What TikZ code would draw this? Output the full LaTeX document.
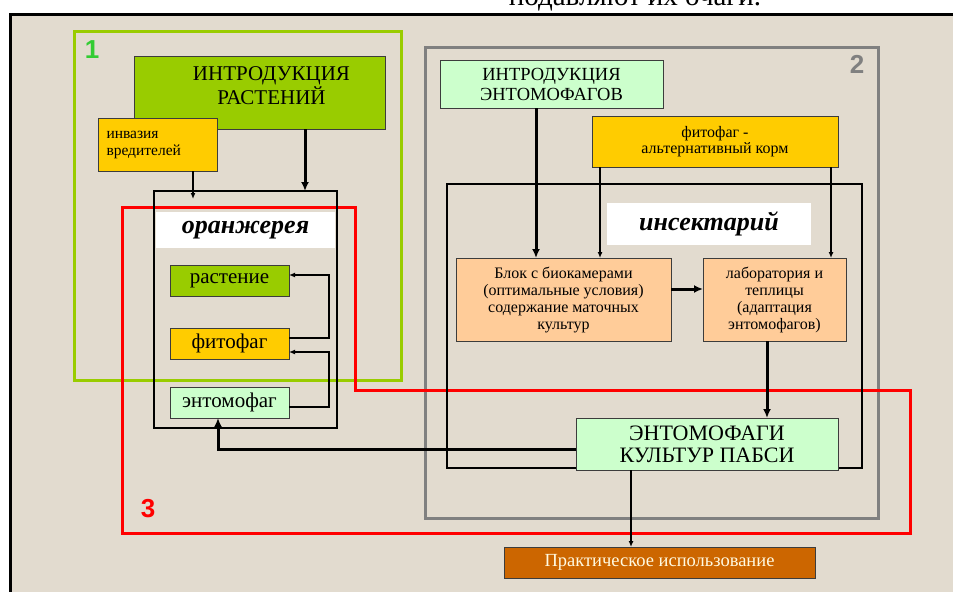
\documentclass[tikz,border=0pt]{standalone}
\usepackage{fontspec}
\setmainfont{Liberation Serif}
\newfontfamily\digitFont{Liberation Sans}
\usetikzlibrary{arrows.meta}
\definecolor{paperColor}{RGB}{226,219,207}
\definecolor{plantGreen}{RGB}{153,204,0}
\definecolor{pestYellow}{RGB}{255,204,0}
\definecolor{entoGreen}{RGB}{204,255,204}
\definecolor{labPeach}{RGB}{255,204,153}
\definecolor{useBrown}{RGB}{204,102,0}
\definecolor{useText}{RGB}{255,250,225}
\definecolor{frameGray}{RGB}{128,128,128}
\definecolor{digitGreen}{RGB}{51,204,51}
\definecolor{edgeGray}{RGB}{60,60,60}
\newcommand{\textSize}[2]{\fontsize{#1}{#2}\selectfont}
\tikzstyle{plan} = [x=1pt, y=-1pt]
\tikzstyle{blockStyle} = [draw=edgeGray, line width=1pt, inner sep=0pt, outer sep=0pt, align=center]
\tikzstyle{frameStyle} = [draw=black, line width=2pt, inner sep=0pt, outer sep=0pt]
\tikzstyle{labelBar} = [fill=white, inner sep=0pt, font=\textSize{26}{30}\bfseries\itshape]
\tikzstyle{zoneLine} = [line width=3pt, line join=miter]
\tikzstyle{digitStyle} = [font=\digitFont\textSize{26}{30}\bfseries, inner sep=0pt]
\tikzstyle{thinArrow} = [line width=1.2pt, -{Latex[length=6pt,width=5pt]}]
\tikzstyle{thickArrow} = [line width=3pt, -{Latex[length=9pt,width=8pt]}]

\begin{document}
\begin{tikzpicture}[plan]
  \useasboundingbox (0,0) rectangle (953,592);
  % paper and border
  \fill [white] (0,0) rectangle (953,592);
  \fill [paperColor] (10,14) rectangle (953,592);
  \draw [line width=3pt] (953,14) -- (10,14) -- (10,592);
  \begin{scope}
    \clip (0,0) rectangle (953,12);
    \node [font=\textSize{29}{32}, anchor=base, inner sep=0pt] (cutText) at (635,5) {подавляют их очаги.};
  \end{scope}
  % zones
  \draw [zoneLine, plantGreen] (74,31) rectangle (401,380);
  \draw [zoneLine, frameGray] (425,47) rectangle (878,518);
  \draw [zoneLine, red] (122,207) -- (355,207) -- (355,390) -- (910,390) -- (910,533) -- (122,533) -- cycle;
  \node [digitStyle, text=digitGreen] (numOne) at (92,50) {1};
  \node [digitStyle, text=frameGray] (numTwo) at (857,64) {2};
  \node [digitStyle, text=red] (numThree) at (148,509) {3};
  % greenhouse
  \node [blockStyle, fill=plantGreen, minimum width=251pt, minimum height=73pt, font=\textSize{21}{22}] (introPlants) at (259.5,92.5) {\hspace*{24pt}ИНТРОДУКЦИЯ\\\hspace*{24pt}РАСТЕНИЙ\\[-8pt]};
  \node [blockStyle, fill=pestYellow, minimum width=119pt, minimum height=53pt, text width=102pt, align=left, font=\textSize{15.5}{17}] (invasion) at (157.5,144.5) {инвазия\\вредителей};
  \node [frameStyle, minimum width=183pt, minimum height=237pt] (greenhouse) at (245.5,309.5) {};
  \node [labelBar, minimum width=179pt, minimum height=36pt] (greenhouseLabel) at (245.5,230) {оранжерея};
  \node [blockStyle, fill=plantGreen, minimum width=119pt, minimum height=31pt, font=\textSize{21}{22}] (plant) at (229.5,280.5) {растение};
  \node [blockStyle, fill=pestYellow, minimum width=119pt, minimum height=31pt, font=\textSize{21}{22}] (phyto) at (229.5,343.5) {фитофаг};
  \node [blockStyle, fill=entoGreen, minimum width=119pt, minimum height=31pt, font=\textSize{21}{22}] (ento) at (229.5,402.5) {энтомофаг};
  % insectarium
  \node [blockStyle, fill=entoGreen, minimum width=223pt, minimum height=48pt, font=\textSize{18.5}{20}] (introEnto) at (551.5,84) {ИНТРОДУКЦИЯ\\ЭНТОМОФАГОВ};
  \node [blockStyle, fill=pestYellow, minimum width=246pt, minimum height=51pt, font=\textSize{16}{16}] (altFood) at (715,141.5) {фитофаг -\\альтернативный корм};
  \node [frameStyle, minimum width=415pt, minimum height=284pt] (insectarium) at (654.5,326) {};
  \node [labelBar, minimum width=204pt, minimum height=42pt] (insectLabel) at (709,223.5) {инсектарий};
  \node [blockStyle, fill=labPeach, minimum width=215pt, minimum height=83pt, font=\textSize{16}{17}] (biochamber) at (563.5,299.5) {Блок с биокамерами\\(оптимальные условия)\\содержание маточных\\культур};
  \node [blockStyle, fill=labPeach, minimum width=143pt, minimum height=83pt, font=\textSize{16}{17}] (lab) at (774.5,299.5) {лаборатория и\\теплицы\\(адаптация\\энтомофагов)};
  \node [blockStyle, fill=entoGreen, minimum width=262pt, minimum height=52pt, font=\textSize{22}{22}] (cultures) at (707,444) {ЭНТОМОФАГИ\\КУЛЬТУР ПАБСИ};
  \node [blockStyle, fill=useBrown, text=useText, minimum width=311pt, minimum height=31pt, font=\textSize{18.5}{20}] (practical) at (659.5,562.5) {Практическое использование};
  % connectors
  \draw [thickArrow] ([xshift=45.5pt]introPlants.south) -- ([xshift=45.5pt]introPlants.south |- greenhouse.north);
  \draw [thinArrow] ([xshift=35.5pt]invasion.south) -- ([xshift=35.5pt, yshift=-8pt]invasion.south |- greenhouse.north);
  \draw [thinArrow] ([yshift=5.5pt]phyto.east) -- ++(40,0) |- ([yshift=5.5pt]plant.east);
  \draw [thinArrow] ([yshift=-4.5pt]ento.east) -- ++(40,0) |- ([yshift=-8.5pt]phyto.east);
  \draw [thickArrow] ([xshift=-15.5pt]introEnto.south) -- ([xshift=-15.5pt]introEnto.south |- biochamber.north);
  \draw [thinArrow] ([xshift=-115pt]altFood.south) -- ([xshift=-115pt]altFood.south |- biochamber.north);
  \draw [thinArrow] ([xshift=116pt]altFood.south) -- ([xshift=116pt]altFood.south |- lab.north);
  \draw [thickArrow] ([yshift=10.5pt]biochamber.east) -- ([yshift=10.5pt]biochamber.east -| lab.west);
  \draw [thickArrow] ([xshift=-7.5pt]lab.south) -- ([xshift=-7.5pt]lab.south |- cultures.north);
  \draw [thickArrow] ([yshift=-5pt]cultures.west) -| ([xshift=-11.5pt]ento.south);
  \draw [thinArrow] ([xshift=-76pt]cultures.south) -- ([xshift=-76pt]cultures.south |- practical.north);
\end{tikzpicture}
\end{document}
